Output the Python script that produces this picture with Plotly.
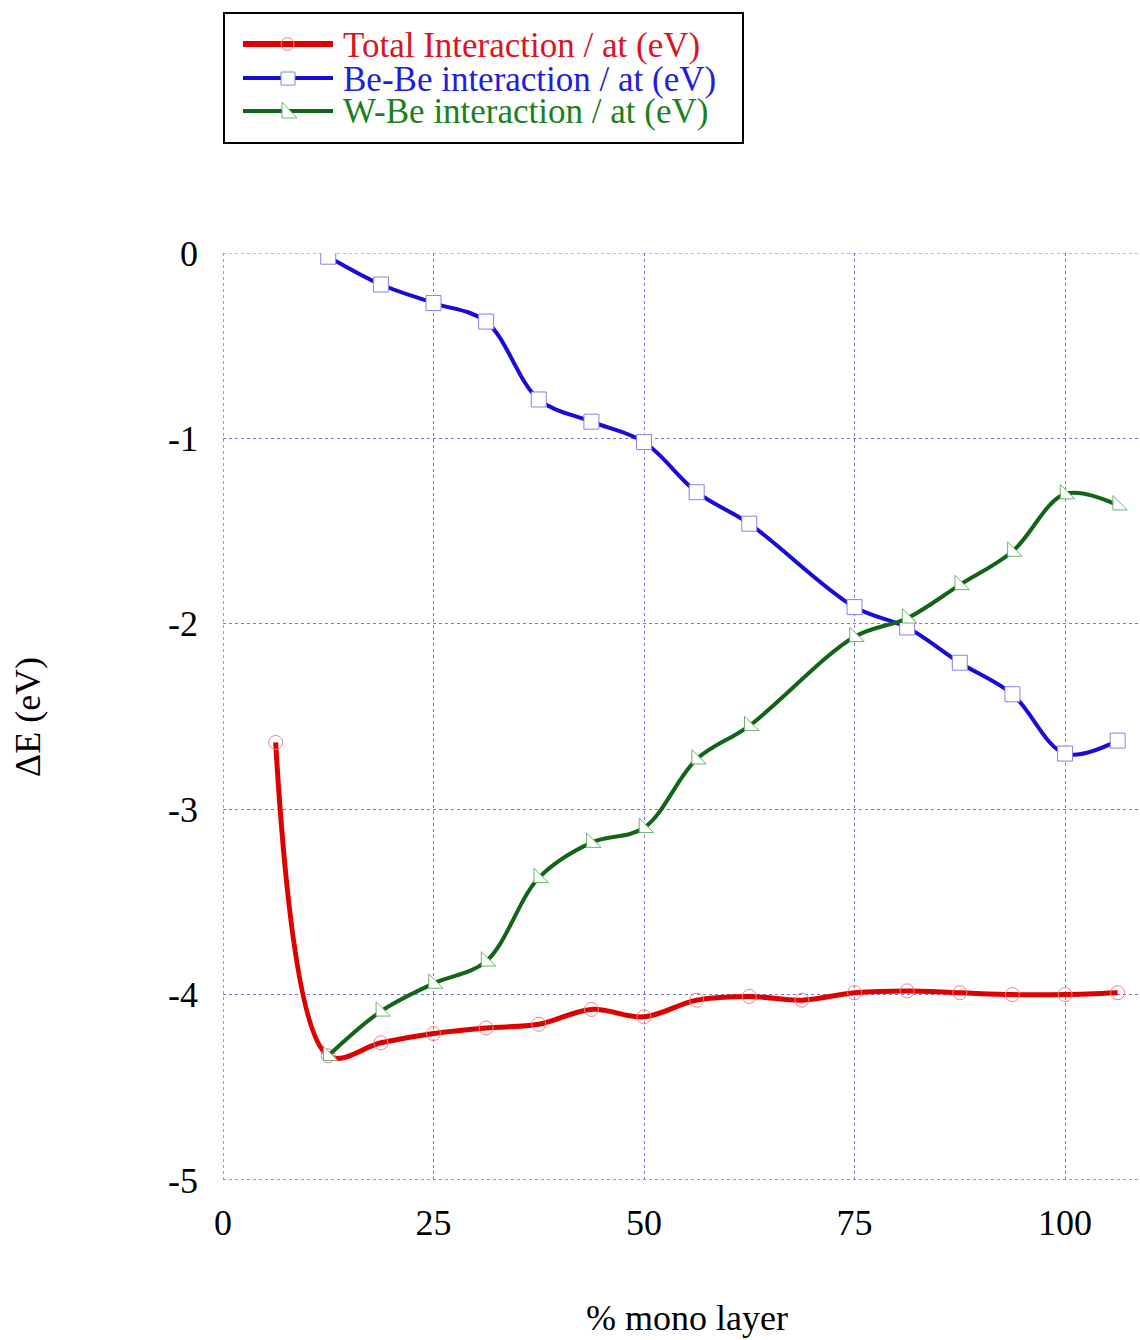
import plotly.graph_objects as go

# ---- data ----
x_total = [6.25, 12.5, 18.75, 25, 31.25, 37.5, 43.75, 50, 56.25, 62.5, 68.75,
           75, 81.25, 87.5, 93.75, 100, 106.25]
y_total = [-2.64, -4.33, -4.26, -4.21, -4.18, -4.16, -4.08, -4.12, -4.03, -4.01, -4.03,
           -3.99, -3.98, -3.99, -4.00, -4.00, -3.99]

x_bebe = [12.5, 18.75, 25, 31.25, 37.5, 43.75, 50, 56.25, 62.5,
          75, 81.25, 87.5, 93.75, 100, 106.25]
y_bebe = [-0.02, -0.17, -0.27, -0.37, -0.79, -0.91, -1.02, -1.29, -1.46,
          -1.91, -2.02, -2.21, -2.38, -2.70, -2.63]

x_wbe = [12.5, 18.75, 25, 31.25, 37.5, 43.75, 50, 56.25, 62.5,
         75, 81.25, 87.5, 93.75, 100, 106.25]
y_wbe = [-4.33, -4.09, -3.94, -3.82, -3.37, -3.18, -3.10, -2.73, -2.55,
         -2.07, -1.97, -1.79, -1.61, -1.30, -1.36]

names = ["Total Interaction / at (eV)", "Be-Be interaction / at (eV)", "W-Be interaction / at (eV)"]
xticks = [0, 25, 50, 75, 100]
yticks = [0, -1, -2, -3, -4, -5]
ytext = ["0", "-1", "-2", "-3", "-4", "-5"]
x_min, x_max = 0, 108.9
y_min, y_max = -5, 0

RED = "rgb(222,0,0)"
BLUE = "rgb(24,12,214)"
GREEN = "rgb(18,100,22)"
RED_T = "rgb(220,20,30)"
BLUE_T = "rgb(30,30,220)"
GREEN_T = "rgb(25,130,25)"
RED_M = "rgb(240,130,130)"
BLUE_M = "rgb(130,130,240)"
GREEN_M = "rgb(110,180,110)"
GRID = "rgb(115,115,240)"
FONT = "Liberation Serif"
FS = 36
LFS = 35

W, H = 1140, 1340
L, T, R, B = 223, 253, 0, 160
PW, PH = W - L - R, H - T - B

fig = go.Figure()
fig.add_trace(go.Scatter(x=x_total, y=y_total, mode="lines+markers", name=names[0],
                         line=dict(color=RED, width=5, shape="spline", smoothing=1),
                         marker=dict(symbol="circle-open", size=14, color=RED_M, line=dict(width=1, color=RED_M))))
fig.add_trace(go.Scatter(x=x_bebe, y=y_bebe, mode="lines+markers", name=names[1],
                         line=dict(color=BLUE, width=4, shape="spline", smoothing=1),
                         marker=dict(symbol="square", size=15, color="white", line=dict(width=1, color=BLUE_M))))
fig.add_trace(go.Scatter(x=x_wbe, y=y_wbe, mode="lines+markers", name=names[2],
                         line=dict(color=GREEN, width=4, shape="spline", smoothing=1),
                         marker=dict(symbol="triangle-sw", size=16, color="white", line=dict(width=1, color=GREEN_M))))


def px(xp):
    return (xp - L) / PW


def py(yp):
    return (H - B - yp) / PH


shapes = []
annotations = []
# dotted frame lines at the range edges (gnuplot grid at border ticks)
shapes.append(dict(type="line", xref="paper", yref="y", x0=0, x1=1, y0=y_max, y1=y_max,
                   line=dict(color=GRID, width=1, dash="dot"), layer="below"))
shapes.append(dict(type="line", xref="paper", yref="y", x0=0, x1=1, y0=y_min, y1=y_min,
                   line=dict(color=GRID, width=1.5, dash="dot"), layer="below"))
shapes.append(dict(type="line", xref="x", yref="paper", x0=x_min, x1=x_min, y0=0, y1=1,
                   line=dict(color=GRID, width=1.5, dash="dot"), layer="below"))

# legend box
shapes.append(dict(type="rect", xref="paper", yref="paper", x0=px(224), x1=px(743), y0=py(13), y1=py(143),
                    line=dict(color="black", width=2), fillcolor="white", layer="above"))
leg_y = [44, 78, 111]
lcols = [RED, BLUE, GREEN]
tcols = [RED_T, BLUE_T, GREEN_T]
lwid = [6, 4, 4]
for i in range(3):
    yy = leg_y[i]
    shapes.append(dict(type="line", xref="paper", yref="paper", x0=px(243), x1=px(333), y0=py(yy), y1=py(yy),
                       line=dict(color=lcols[i], width=lwid[i]), layer="above"))
    annotations.append(dict(xref="paper", yref="paper", x=px(341), y=py(yy + 1), xanchor="left", yanchor="middle",
                            text=names[i], showarrow=False, font=dict(family=FONT, size=LFS, color=tcols[i])))
# legend markers
shapes.append(dict(type="circle", xref="paper", yref="paper", x0=px(281), x1=px(294), y0=py(37.5), y1=py(50.5),
                   line=dict(color=RED_M, width=1), layer="above"))
shapes.append(dict(type="rect", xref="paper", yref="paper", x0=px(281), x1=px(295), y0=py(72), y1=py(85),
                   line=dict(color=BLUE_M, width=1), fillcolor="white", layer="above"))
tri = "M {},{} L {},{} L {},{} Z".format(px(282), py(102), px(282), py(118), px(297), py(118))
shapes.append(dict(type="path", xref="paper", yref="paper", path=tri,
                   line=dict(color=GREEN_M, width=1), fillcolor="white", layer="above"))

# axis titles
annotations.append(dict(xref="paper", yref="paper", x=px(687), y=py(1318), xanchor="center", yanchor="middle",
                        text="% mono layer", showarrow=False, font=dict(family=FONT, size=FS, color="black")))
annotations.append(dict(xref="paper", yref="paper", x=px(28), y=py(717), xanchor="center", yanchor="middle",
                        text="ΔE (eV)", textangle=-90, showarrow=False, font=dict(family=FONT, size=FS, color="black")))

fig.update_layout(
    width=W, height=H,
    margin=dict(l=L, r=R, t=T, b=B, pad=0),
    paper_bgcolor="white", plot_bgcolor="white",
    showlegend=False,
    font=dict(family=FONT, size=FS, color="black"),
    shapes=shapes, annotations=annotations,
)
fig.update_xaxes(range=[x_min, x_max], tickvals=xticks, ticktext=[str(v) for v in xticks],
                 showgrid=True, gridcolor=GRID, griddash="dot", gridwidth=1,
                 zeroline=False, showline=False, ticks="", ticklabelstandoff=18,
                 tickfont=dict(family=FONT, size=FS, color="black"))
fig.update_yaxes(range=[y_min, y_max], tickvals=yticks, ticktext=ytext,
                 showgrid=True, gridcolor=GRID, griddash="dot", gridwidth=1,
                 zeroline=False, showline=False, ticks="", ticklabelstandoff=24,
                 tickfont=dict(family=FONT, size=FS, color="black"))

fig.write_html("out.html")
